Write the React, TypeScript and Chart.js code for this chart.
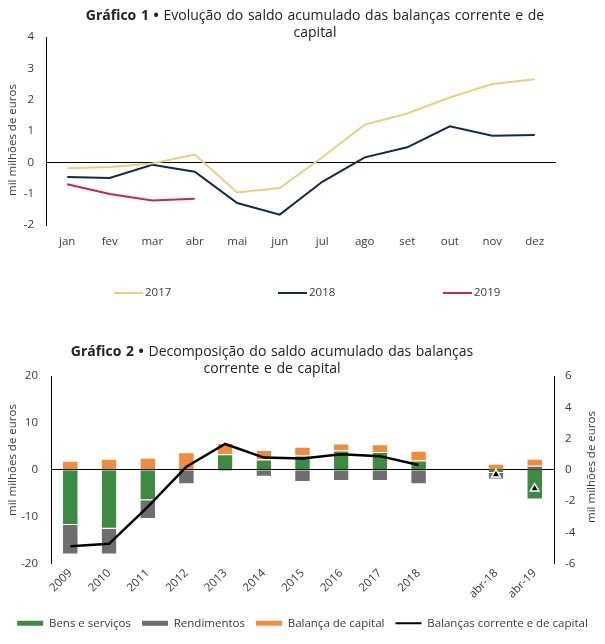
import React, { useEffect, useRef } from 'react';
import { Chart, registerables } from 'chart.js';

Chart.register(...registerables);

const FONT = '"Open Sans", sans-serif';
const TEXT = '#3a3a3a';

// ---------- Gráfico 1 data ----------
const months = ['jan', 'fev', 'mar', 'abr', 'mai', 'jun', 'jul', 'ago', 'set', 'out', 'nov', 'dez'];
const s2017 = [-0.19, -0.15, -0.04, 0.25, -0.96, -0.82, 0.16, 1.2, 1.56, 2.07, 2.5, 2.65];
const s2018 = [-0.47, -0.5, -0.08, -0.3, -1.3, -1.67, -0.62, 0.16, 0.48, 1.15, 0.85, 0.87];
const s2019 = [-0.7, -1.01, -1.22, -1.16, null, null, null, null, null, null, null, null];
const yTicks1 = { min: -2, max: 4, step: 1 };

// ---------- Gráfico 2 data ----------
const years = ['2009', '2010', '2011', '2012', '2013', '2014', '2015', '2016', '2017', '2018', '', 'abr-18', 'abr-19'];
const bens = [-11.8, -12.6, -6.5, 0, 3.3, 2.2, 3.05, 4.1, 3.8, 2.0, null, null, null];
const rend = [-6.3, -5.5, -4.0, -3.1, -0.3, -1.5, -2.6, -2.4, -2.4, -3.1, null, null, null];
const capital = [1.9, 2.35, 2.55, 3.75, 2.4, 2.0, 1.85, 1.5, 1.65, 2.05, null, null, null];
const saldo = [-16.3, -15.8, -7.9, 0.65, 5.5, 2.6, 2.4, 3.3, 2.9, 1.0, null, null, null];
const abrBens = [null, null, null, null, null, null, null, null, null, null, null, -0.2, -1.9];
const abrRend = [null, null, null, null, null, null, null, null, null, null, null, -0.42, 0.25];
const abrCapital = [null, null, null, null, null, null, null, null, null, null, null, 0.38, 0.45];
const abrSaldo = [null, null, null, null, null, null, null, null, null, null, null, -0.3, -1.2];
const yTicks2 = { min: -20, max: 20, step: 10 };
const y2Ticks2 = { min: -6, max: 6, step: 2 };

const YELLOW = '#E9D07C';
const NAVY = '#102A48';
const RED = '#C8284B';
const GREEN = '#3D8B40';
const GRAY = '#6E6E6E';
const ORANGE = '#F28B3A';

const tickFont = { family: FONT, size: 11.5 };

const axisTitlePlugin = {
  id: 'axisTitles',
  afterDraw(chart: any, _args: any, opts: any) {
    const { ctx } = chart;
    (opts.items || []).forEach((it: any) => {
      ctx.save();
      ctx.translate(it.x, it.y);
      ctx.rotate(-Math.PI / 2);
      ctx.font = `11.5px ${FONT}`;
      ctx.fillStyle = TEXT;
      ctx.textAlign = 'center';
      ctx.textBaseline = 'middle';
      ctx.fillText(it.text, 0, 0);
      ctx.restore();
    });
  },
};

const lineLegendPlugin = {
  id: 'lineLegend',
  afterDraw(chart: any, _args: any, opts: any) {
    const { ctx } = chart;
    chart.data.datasets.forEach((ds: any, i: number) => {
      const x = opts.xs[i];
      const y = opts.y;
      ctx.save();
      ctx.strokeStyle = ds.borderColor;
      ctx.lineWidth = 2;
      ctx.beginPath();
      ctx.moveTo(x, y);
      ctx.lineTo(x + opts.w, y);
      ctx.stroke();
      ctx.font = `11.5px ${FONT}`;
      ctx.fillStyle = TEXT;
      ctx.textAlign = 'left';
      ctx.textBaseline = 'middle';
      ctx.fillText(ds.label, x + opts.w + 2, y);
      ctx.restore();
    });
  },
};

const zeroLine = (c: any) => (c.tick && c.tick.value === 0 ? '#000' : 'rgba(0,0,0,0)');

export default function App() {
  const c1 = useRef<HTMLCanvasElement>(null);
  const c2 = useRef<HTMLCanvasElement>(null);

  useEffect(() => {
    const chart1 = new Chart(c1.current as HTMLCanvasElement, {
      type: 'line',
      data: {
        labels: months,
        datasets: [
          { label: '2017', data: s2017, borderColor: YELLOW, backgroundColor: YELLOW, borderWidth: 2, pointRadius: 0, tension: 0 },
          { label: '2018', data: s2018, borderColor: NAVY, backgroundColor: NAVY, borderWidth: 2, pointRadius: 0, tension: 0 },
          { label: '2019', data: s2019, borderColor: RED, backgroundColor: RED, borderWidth: 2, pointRadius: 0, tension: 0 },
        ],
      },
      options: {
        animation: false,
        responsive: false,
        layout: { padding: { top: 37, right: 49, bottom: 55, left: 0 } },
        plugins: {
          legend: { display: false },
          tooltip: { enabled: false },
          lineLegend: { xs: [114, 278, 443], y: 293, w: 29 },
          axisTitles: { items: [{ text: 'mil milhões de euros', x: 13, y: 140 }] },
        } as any,
        scales: {
          x: {
            offset: true,
            grid: { display: false, drawTicks: false },
            border: { display: false },
            ticks: { padding: 10, color: TEXT, font: tickFont },
            afterFit: (s: any) => { s.height = 30; },
          },
          y: {
            min: yTicks1.min,
            max: yTicks1.max,
            ticks: { stepSize: yTicks1.step, padding: 12, color: TEXT, font: tickFont },
            grid: { drawTicks: false, color: zeroLine, lineWidth: 1 },
            border: { display: true, color: '#000', width: 1 },
            afterFit: (s: any) => { s.width = 46; },
          },
        },
      },
      plugins: [lineLegendPlugin, axisTitlePlugin],
    });

    const barBorder = { top: 1, bottom: 1, left: 0, right: 0 };

    const chart2 = new Chart(c2.current as HTMLCanvasElement, {
      type: 'bar',
      data: {
        labels: years,
        datasets: [
          { type: 'bar', label: 'Bens e serviços', data: bens, backgroundColor: GREEN, borderColor: '#fff', borderWidth: barBorder, stack: 's', yAxisID: 'y', order: 2, barPercentage: 0.38, categoryPercentage: 1 },
          { type: 'bar', label: 'Rendimentos', data: rend, backgroundColor: GRAY, borderColor: '#fff', borderWidth: barBorder, stack: 's', yAxisID: 'y', order: 2, barPercentage: 0.38, categoryPercentage: 1 },
          { type: 'bar', label: 'Balança de capital', data: capital, backgroundColor: ORANGE, borderColor: '#fff', borderWidth: barBorder, stack: 's', yAxisID: 'y', order: 2, barPercentage: 0.38, categoryPercentage: 1 },
          { type: 'line', label: 'Balanças corrente e de capital', data: saldo, borderColor: '#000', backgroundColor: '#000', borderWidth: 2.5, pointRadius: 0, tension: 0, stack: 'line', yAxisID: 'y', order: 1 },
          { type: 'bar', label: 'Bens e serviços (abr)', data: abrBens, backgroundColor: GREEN, borderColor: '#fff', borderWidth: barBorder, stack: 's', yAxisID: 'y2', order: 2, barPercentage: 0.38, categoryPercentage: 1 },
          { type: 'bar', label: 'Rendimentos (abr)', data: abrRend, backgroundColor: GRAY, borderColor: '#fff', borderWidth: barBorder, stack: 's', yAxisID: 'y2', order: 2, barPercentage: 0.38, categoryPercentage: 1 },
          { type: 'bar', label: 'Balança de capital (abr)', data: abrCapital, backgroundColor: ORANGE, borderColor: '#fff', borderWidth: barBorder, stack: 's', yAxisID: 'y2', order: 2, barPercentage: 0.38, categoryPercentage: 1 },
          { type: 'line', label: 'Balanças corrente e de capital (abr)', data: abrSaldo, showLine: false, pointStyle: 'triangle', pointRadius: 5, pointBackgroundColor: '#000', pointBorderColor: '#fff', pointBorderWidth: 1.5, borderColor: '#000', backgroundColor: '#000', stack: 'tri', yAxisID: 'y2', order: 0 },
        ] as any,
      },
      options: {
        animation: false,
        responsive: false,
        layout: { padding: { top: 46, right: 0, bottom: 5, left: 0 } },
        plugins: {
          tooltip: { enabled: false },
          legend: {
            position: 'bottom',
            labels: {
              usePointStyle: true,
              boxWidth: 26,
              boxHeight: 5,
              pointStyleWidth: 26,
              padding: 11,
              color: TEXT,
              font: tickFont,
              filter: (item: any) => item.datasetIndex <= 3,
              sort: (a: any, b: any) => a.datasetIndex - b.datasetIndex,
              generateLabels: (chart: any) =>
                (Chart.defaults.plugins.legend.labels.generateLabels as any)(chart).map((l: any) =>
                  l.datasetIndex === 3
                    ? { ...l, pointStyle: 'line', lineWidth: 2, strokeStyle: '#000', fillStyle: '#000' }
                    : { ...l, pointStyle: 'rect', lineWidth: 0, strokeStyle: l.fillStyle }
                ),
            },
          },
          axisTitles: {
            items: [
              { text: 'mil milhões de euros', x: 13, y: 130 },
              { text: 'mil milhões de euros', x: 592, y: 137 },
            ],
          },
        } as any,
        scales: {
          x: {
            stacked: true,
            offset: true,
            grid: { display: false, drawTicks: false },
            border: { display: false },
            ticks: { autoSkip: false, maxRotation: 45, minRotation: 45, padding: 3, color: TEXT, font: tickFont },
            afterFit: (s: any) => { s.height = 43; },
          },
          y: {
            position: 'left',
            stacked: true,
            min: yTicks2.min,
            max: yTicks2.max,
            z: 1,
            ticks: { stepSize: yTicks2.step, padding: 13, color: TEXT, font: tickFont },
            grid: { drawTicks: false, color: zeroLine, lineWidth: 1 },
            border: { display: true, color: '#000', width: 1 },
            afterFit: (s: any) => { s.width = 51; },
          },
          y2: {
            position: 'right',
            stacked: true,
            min: y2Ticks2.min,
            max: y2Ticks2.max,
            ticks: { stepSize: y2Ticks2.step, padding: 11, color: TEXT, font: tickFont },
            grid: { display: false, drawTicks: false },
            border: { display: true, color: '#000', width: 1 },
            afterFit: (s: any) => { s.width = 51; },
          },
        } as any,
      },
      plugins: [axisTitlePlugin],
    });

    return () => {
      chart1.destroy();
      chart2.destroy();
    };
  }, []);

  const titleStyle: React.CSSProperties = {
    position: 'absolute',
    textAlign: 'center',
    fontFamily: FONT,
    fontSize: 14,
    lineHeight: '17px',
    wordSpacing: 1,
    color: '#222',
    whiteSpace: 'nowrap',
  };

  return (
    <div style={{ position: 'absolute', left: 0, top: 0, width: 605, height: 644, background: '#fff' }}>
      <canvas ref={c1} width={605} height={310} style={{ position: 'absolute', left: 0, top: 0 }} />
      <canvas ref={c2} width={605} height={314} style={{ position: 'absolute', left: 0, top: 330 }} />
      <div style={{ ...titleStyle, left: 15, width: 600, top: 6 }}>
        <b>Gráfico 1 •</b> Evolução do saldo acumulado das balanças corrente e de
        <br />
        capital
      </div>
      <div style={{ ...titleStyle, left: 22, width: 500, top: 342 }}>
        <b>Gráfico 2 •</b> Decomposição do saldo acumulado das balanças
        <br />
        corrente e de capital
      </div>
    </div>
  );
}
